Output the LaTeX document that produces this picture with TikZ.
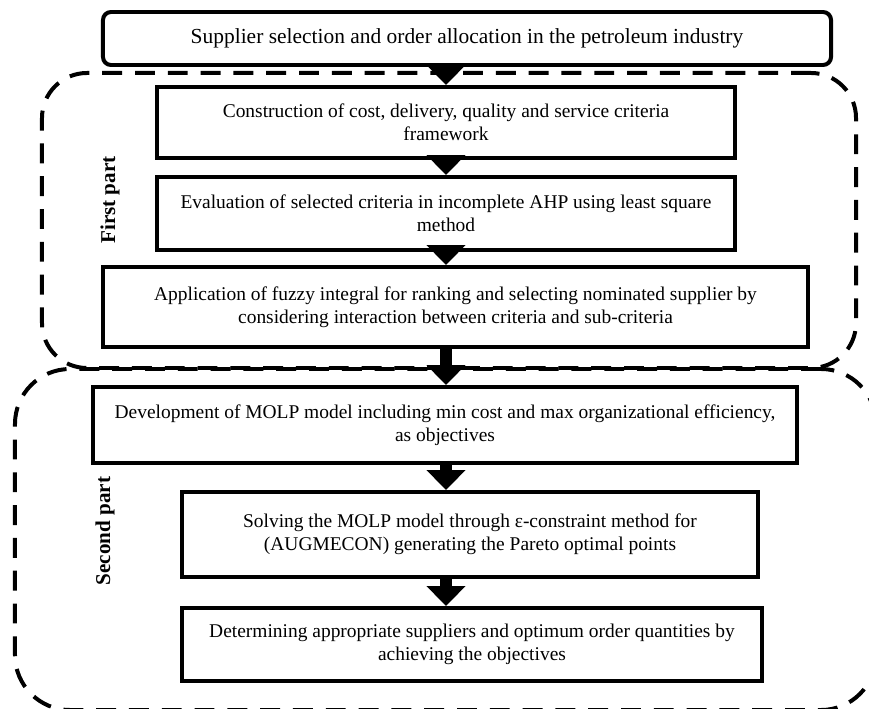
\documentclass[tikz,border=0pt]{standalone}
\usepackage{fontspec}
\setmainfont{Liberation Serif}
\usetikzlibrary{positioning,arrows.meta}
\tikzset{
  stage/.style={draw=black,line width=3.4pt,fill=white,inner sep=0pt,align=center,
    font=\fontsize{16.6}{19.6}\selectfont},
  headbox/.style={stage,rounded corners=0.24cm,font=\fontsize{18.3}{21}\selectfont},
  part/.style={draw=black,line width=3.4pt,dash pattern=on 17pt off 11pt,inner sep=0pt},
  partlab/.style={rotate=90,font=\fontsize{18}{21}\selectfont\bfseries},
  flow/.style={line width=0.36cm,-{Triangle[width=1.14cm,length=0.6cm]}},
}

\begin{document}
\begin{tikzpicture}[x=0.03cm,y=-0.03cm]
\useasboundingbox (0,0) rectangle (869,709);
\node[part,rounded corners=1.35cm,minimum width=24.42cm,minimum height=8.85cm] (part1) at (449,220.5) {};
\node[part,rounded corners=1.65cm,minimum width=25.83cm,minimum height=10.23cm] (part2) at (445.5,539.5) {};
\node[partlab] (lab1) at (110,200) {First part};
\node[partlab] (lab2) at (105,531) {Second part};
\node[headbox,minimum width=21.84cm,minimum height=1.59cm] (top) at (467,38.5) {Supplier selection and order allocation in the petroleum industry};
\node[stage,minimum width=17.34cm,minimum height=2.13cm] (b1) at (446,122.5) {Construction of cost, delivery, quality and service criteria\\framework};
\node[stage,minimum width=17.34cm,minimum height=2.19cm] (b2) at (446,213.5) {Evaluation of selected criteria in incomplete AHP using least square\\method};
\node[stage,minimum width=21.15cm,minimum height=2.4cm] (b3) at (455.5,307) {Application of fuzzy integral for ranking and selecting nominated supplier by\\considering interaction between criteria and sub-criteria};
\node[stage,minimum width=21.12cm,minimum height=2.28cm] (b4) at (445,425) {Development of MOLP model including min cost and max organizational efficiency,\\as objectives};
\node[stage,minimum width=17.28cm,minimum height=2.55cm] (b5) at (470,534.5) {Solving the MOLP model through ε-constraint method for\\(AUGMECON) generating the Pareto optimal points};
\node[stage,minimum width=17.4cm,minimum height=2.19cm] (b6) at (472,644.5) {Determining appropriate suppliers and optimum order quantities by\\achieving the objectives};
\coordinate (axis) at (446,0);
\draw[flow] (top.south -| axis) -- (b1.north -| axis);
\draw[flow] (b1.south -| axis) -- (b2.north -| axis);
\draw[flow] (b2.south -| axis) -- (b3.north -| axis);
\draw[flow] (b3.south -| axis) -- (b4.north -| axis);
\draw[flow] (b4.south -| axis) -- (b5.north -| axis);
\draw[flow] (b5.south -| axis) -- (b6.north -| axis);
\end{tikzpicture}
\end{document}
